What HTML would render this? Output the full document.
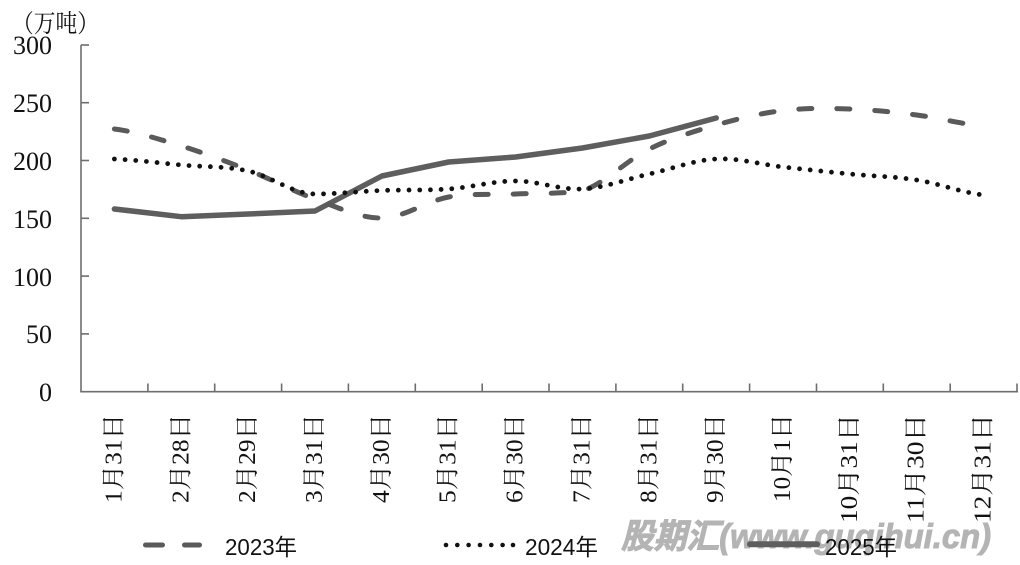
<!DOCTYPE html>
<html>
<head>
<meta charset="utf-8">
<style>
  html, body { margin: 0; padding: 0; background: #ffffff; }
  body { width: 1020px; height: 565px; overflow: hidden; }
  svg { display: block; }
  .serif { font-family: "Liberation Serif", "Noto Serif CJK SC", serif; }
  .sans { font-family: "Liberation Sans", "Noto Sans CJK SC", sans-serif; }
</style>
</head>
<body>
<svg width="1020" height="565" viewBox="0 0 1020 565" xmlns="http://www.w3.org/2000/svg">
  <rect x="0" y="0" width="1020" height="565" fill="#ffffff"/>

  <!-- unit label -->
  <text class="serif" x="12" y="32" font-size="25" fill="#111" textLength="87" lengthAdjust="spacingAndGlyphs">（万吨）</text>

  <!-- y tick labels -->
  <g class="serif" font-size="26" fill="#111" text-anchor="end">
    <text x="52" y="54">300</text>
    <text x="52" y="112">250</text>
    <text x="52" y="170">200</text>
    <text x="52" y="228">150</text>
    <text x="52" y="286">100</text>
    <text x="52" y="343">50</text>
    <text x="52" y="401">0</text>
  </g>

  <!-- axes -->
  <g stroke="#6e6e6e" stroke-width="1.6" fill="none">
    <line x1="81" y1="45" x2="81" y2="391.7"/>
    <line x1="80.2" y1="391.7" x2="1018" y2="391.7"/>
    <line x1="81" y1="45" x2="89" y2="45"/>
    <line x1="81" y1="102.7" x2="89" y2="102.7"/>
    <line x1="81" y1="160.5" x2="89" y2="160.5"/>
    <line x1="81" y1="218.3" x2="89" y2="218.3"/>
    <line x1="81" y1="276.1" x2="89" y2="276.1"/>
    <line x1="81" y1="333.9" x2="89" y2="333.9"/>
    <line x1="147.9" y1="383.5" x2="147.9" y2="391.7"/>
    <line x1="214.7" y1="383.5" x2="214.7" y2="391.7"/>
    <line x1="281.6" y1="383.5" x2="281.6" y2="391.7"/>
    <line x1="348.4" y1="383.5" x2="348.4" y2="391.7"/>
    <line x1="415.3" y1="383.5" x2="415.3" y2="391.7"/>
    <line x1="482.2" y1="383.5" x2="482.2" y2="391.7"/>
    <line x1="549.0" y1="383.5" x2="549.0" y2="391.7"/>
    <line x1="615.9" y1="383.5" x2="615.9" y2="391.7"/>
    <line x1="682.7" y1="383.5" x2="682.7" y2="391.7"/>
    <line x1="749.6" y1="383.5" x2="749.6" y2="391.7"/>
    <line x1="816.5" y1="383.5" x2="816.5" y2="391.7"/>
    <line x1="883.3" y1="383.5" x2="883.3" y2="391.7"/>
    <line x1="950.2" y1="383.5" x2="950.2" y2="391.7"/>
    <line x1="1017" y1="383.5" x2="1017" y2="391.7"/>
  </g>

  <!-- x category labels (rotated) -->
  <g class="serif" font-size="24" fill="#111" text-anchor="end" dominant-baseline="central">
    <text transform="translate(114.4,414) rotate(-90)" textLength="89" lengthAdjust="spacingAndGlyphs">1月31日</text>
    <text transform="translate(181.3,414) rotate(-90)" textLength="89" lengthAdjust="spacingAndGlyphs">2月28日</text>
    <text transform="translate(248.1,414) rotate(-90)" textLength="89" lengthAdjust="spacingAndGlyphs">2月29日</text>
    <text transform="translate(315.0,414) rotate(-90)" textLength="89" lengthAdjust="spacingAndGlyphs">3月31日</text>
    <text transform="translate(381.9,414) rotate(-90)" textLength="89" lengthAdjust="spacingAndGlyphs">4月30日</text>
    <text transform="translate(448.7,414) rotate(-90)" textLength="89" lengthAdjust="spacingAndGlyphs">5月31日</text>
    <text transform="translate(515.6,414) rotate(-90)" textLength="89" lengthAdjust="spacingAndGlyphs">6月30日</text>
    <text transform="translate(582.4,414) rotate(-90)" textLength="89" lengthAdjust="spacingAndGlyphs">7月31日</text>
    <text transform="translate(649.3,414) rotate(-90)" textLength="89" lengthAdjust="spacingAndGlyphs">8月31日</text>
    <text transform="translate(716.2,414) rotate(-90)" textLength="89" lengthAdjust="spacingAndGlyphs">9月30日</text>
    <text transform="translate(783.0,414) rotate(-90)" textLength="88" lengthAdjust="spacingAndGlyphs">10月1日</text>
    <text transform="translate(849.9,414) rotate(-90)" textLength="109" lengthAdjust="spacingAndGlyphs">10月31日</text>
    <text transform="translate(916.7,414) rotate(-90)" textLength="109" lengthAdjust="spacingAndGlyphs">11月30日</text>
    <text transform="translate(983.6,414) rotate(-90)" textLength="109" lengthAdjust="spacingAndGlyphs">12月31日</text>
  </g>

  <!-- 2025 solid -->
  <polyline fill="none" stroke="#5e5e5e" stroke-width="5.5" stroke-linejoin="round" stroke-linecap="round"
    points="114.4,209 181.3,216.7 248.1,214 315,211 381.9,176 448.7,162 515.6,157 582.4,148 649.3,136 716.2,118"/>

  <!-- 2023 dashed -->
  <path fill="none" stroke="#5a5a5a" stroke-width="5" stroke-linecap="round" stroke-dasharray="13 25"
    d="M114.4,129
       C136.7,131.83 159.0,139.17 181.3,146
       C203.6,152.83 225.8,161.17 248.1,170
       C270.4,178.83 292.7,191 315.0,199
       C337.3,207 359.6,218.33 381.9,218
       C404.2,217.67 426.4,201 448.7,197
       C471.0,193 493.3,195 515.6,194
       C537.9,193 560.1,194 582.4,191
       C604.7,183.5 627.0,160 649.3,149
       C671.6,138 693.9,131.42 716.2,125
       C738.5,118.58 760.7,113.17 783.0,110.5
       C805.3,107.83 827.6,108.25 849.9,109
       C872.2,109.75 894.4,112.17 916.7,115
       C939.0,117.83 961.3,124.17 983.6,126"/>

  <!-- 2024 dotted -->
  <path fill="none" stroke="#111111" stroke-width="4.8" stroke-linecap="round" stroke-dasharray="0 10.7"
    d="M114.4,159
       C136.7,160 159.0,163 181.3,165
       C203.6,167 225.8,166.17 248.1,171
       C270.4,175.83 292.7,194 315.0,194
       C337.3,194 359.6,191.33 381.9,190.5
       C404.2,189.67 426.4,190.58 448.7,189
       C471.0,187.42 493.3,181 515.6,181
       C537.9,181 560.1,190.17 582.4,189
       C604.7,187.83 627.0,179 649.3,174
       C671.6,169 693.9,160.17 716.2,159
       C738.5,157.83 760.7,164.5 783.0,167
       C805.3,169.5 827.6,171.83 849.9,174
       C872.2,176.17 894.4,176.5 916.7,180
       C939.0,183.5 961.3,192.5 983.6,195"/>

  <!-- watermark -->
  <text class="sans" x="621" y="548" font-size="34" font-weight="bold" font-style="italic" fill="#b4b4b4" stroke="#b4b4b4" stroke-width="1" textLength="370" lengthAdjust="spacingAndGlyphs">股期汇(www.guqihui.cn)</text>

  <!-- legend -->
  <g stroke="#5a5a5a" stroke-width="5" stroke-linecap="round">
    <line x1="145.5" y1="545" x2="162.5" y2="545"/>
    <line x1="184.5" y1="545" x2="199.5" y2="545"/>
  </g>
  <g fill="#111">
    <circle cx="446" cy="545" r="2.3"/>
    <circle cx="457.3" cy="545" r="2.3"/>
    <circle cx="468.6" cy="545" r="2.3"/>
    <circle cx="480" cy="545" r="2.3"/>
    <circle cx="491.3" cy="545" r="2.3"/>
    <circle cx="502.6" cy="545" r="2.3"/>
    <circle cx="513" cy="545" r="2.3"/>
  </g>
  <line x1="750" y1="544.3" x2="817" y2="544.3" stroke="#5e5e5e" stroke-width="6" stroke-linecap="round"/>

  <g class="sans" font-size="23" fill="#111">
    <text x="225" y="555" textLength="72" lengthAdjust="spacingAndGlyphs">2023年</text>
    <text x="525" y="555" textLength="73" lengthAdjust="spacingAndGlyphs">2024年</text>
    <text x="825" y="555" textLength="72" lengthAdjust="spacingAndGlyphs">2025年</text>
  </g>
</svg>
</body>
</html>
